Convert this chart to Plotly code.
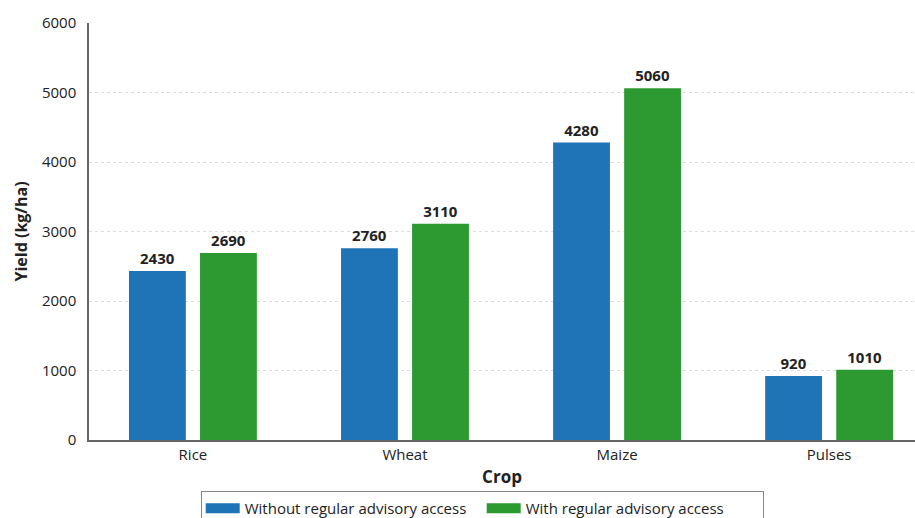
import plotly.graph_objects as go

crops = ["Rice", "Wheat", "Maize", "Pulses"]
without_access = [2430, 2760, 4280, 920]
with_access = [2690, 3110, 5060, 1010]
series_names = ["Without regular advisory access", "With regular advisory access"]
y_ticks = [0, 1000, 2000, 3000, 4000, 5000, 6000]

BLUE = "#1f73b7"
GREEN = "#2c9a31"
FONT = "Open Sans"

fig = go.Figure()
for name, vals, color in [(series_names[0], without_access, BLUE),
                          (series_names[1], with_access, GREEN)]:
    fig.add_trace(go.Bar(
        x=crops, y=vals, name=name, marker_color=color,
        marker_line_width=0, showlegend=False, legendgroup=name,
        text=[str(v) for v in vals], textposition="outside",
        textfont=dict(family=FONT, size=15, color="#222222", weight="bold"),
        cliponaxis=False,
    ))

# Legend entries drawn as thick line swatches (wide rectangles)
for name, color in [(series_names[0], BLUE), (series_names[1], GREEN)]:
    fig.add_trace(go.Scatter(
        x=[None], y=[None], mode="lines", name=name, legendgroup=name,
        line=dict(color=color, width=14), hoverinfo="skip",
    ))

fig.update_layout(
    width=915, height=518,
    margin=dict(l=89, r=0, t=23, b=78),
    paper_bgcolor="white", plot_bgcolor="white",
    barmode="group", bargap=0.33, bargroupgap=0.2,
    font=dict(family=FONT, size=14, color="#222222"),
    showlegend=True,
    legend=dict(
        orientation="h", xref="container", yref="container",
        x=0.527, xanchor="center", y=0.052, yanchor="top",
        bordercolor="#888888", borderwidth=1, bgcolor="white",
        font=dict(family=FONT, size=15, color="#222222"),
        itemwidth=34, entrywidth=232, entrywidthmode="pixels",
    ),
)
fig.update_xaxes(
    range=[-0.49, 3.405],
    title=dict(text="Crop", font=dict(family=FONT, size=17, weight="bold"), standoff=8),
    showline=True, linecolor="#666666", linewidth=1.5,
    ticks="", showgrid=False,
    tickfont=dict(family=FONT, size=15, color="#222222"),
)
fig.update_yaxes(
    range=[0, 6000], tickvals=y_ticks,
    title=dict(text="Yield (kg/ha)", font=dict(family=FONT, size=16, weight="bold"), standoff=10),
    showline=True, linecolor="#666666", linewidth=1.5,
    showgrid=True, gridcolor="#dddddd", griddash="3px,3px", gridwidth=1,
    zeroline=False, ticks="", ticklabelstandoff=8,
    tickfont=dict(family=FONT, size=15, color="#222222"),
)

fig.write_html("out.html")
